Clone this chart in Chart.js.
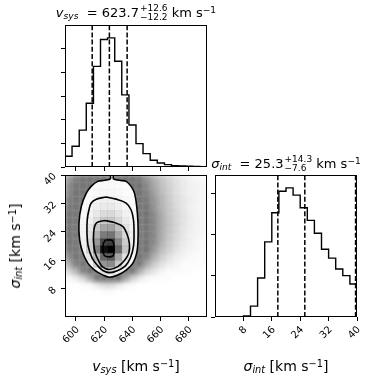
<!DOCTYPE html>
<html>
<head>
<meta charset="utf-8">
<title>v_sys / sigma_int corner plot</title>
<script src="https://cdn.jsdelivr.net/npm/chart.js@4.4.1/dist/chart.umd.min.js"></script>
<style>
  html, body { margin: 0; padding: 0; background: #fff; }
  #fig { position: relative; width: 373px; height: 385px; overflow: hidden;
         font-family: 'DejaVu Sans', sans-serif; color: #000; }
  #fig canvas { position: absolute; }
  .lbl { position: absolute; white-space: nowrap; transform: translateX(-50%); }
  .ttl { font-size: 13px; line-height: 15px; }
  .axl { font-size: 14px; line-height: 16px; }
  .sb { font-style: italic; font-size: 0.7em; position: relative; top: 0.25em; }
  .sp { font-size: 0.7em; position: relative; top: -0.42em; }
  .ss { position: relative; display: inline-block; font-size: 9px; line-height: 9px; margin-left: 1px; }
  .ss .u { position: relative; top: -5.7px; }
  .ss .d { position: absolute; left: 0; top: 3.3px; }
  #ylab { transform: translate(-50%, -50%) rotate(-90deg); }
</style>
</head>
<body>
<div id="fig">
  <canvas id="histV" width="215" height="180" style="left:0;top:0"></canvas>
  <canvas id="joint" width="215" height="225" style="left:0;top:160px"></canvas>
  <canvas id="histS" width="165" height="225" style="left:208px;top:160px"></canvas>

  <div class="lbl ttl" style="left:136px;top:4.7px"><i>v</i><span class="sb">sys</span>&nbsp; = 623.7<span class="ss"><span class="u">+12.6</span><span class="d">−12.2</span></span> km s<span class="sp">−1</span></div>
  <div class="lbl ttl" style="left:286px;top:155.5px"><i>σ</i><span class="sb">int</span>&nbsp; = 25.3<span class="ss"><span class="u">+14.3</span><span class="d">−7.6</span></span> km s<span class="sp">−1</span></div>
  <div class="lbl axl" style="left:136px;top:358px"><i>v</i><span class="sb">sys</span> [km s<span class="sp">−1</span>]</div>
  <div class="lbl axl" style="left:286px;top:358px"><i>σ</i><span class="sb">int</span> [km s<span class="sp">−1</span>]</div>
  <div class="lbl axl" id="ylab" style="left:16px;top:246px"><i>σ</i><span class="sb">int</span> [km s<span class="sp">−1</span>]</div>
</div>

<script>
// ---- values ----
const vsysEdges = [592.2, 597.2, 602.3, 607.3, 612.4, 617.4, 622.4, 627.5, 632.5, 637.6, 642.6,
                   647.6, 652.7, 657.7, 662.8, 667.8, 672.8, 677.9, 682.9, 688.0, 693.0];
const vsysCounts = [455, 880, 1560, 2695, 4255, 5390, 5460, 4470, 3050, 1775,
                    990, 565, 285, 170, 100, 55, 40, 30, 20, 12];
const sigEdges = [0, 2, 4, 6, 8, 10, 12, 14, 16, 18, 20, 22, 24, 26, 28, 30, 32, 34, 36, 38, 40];
const sigCounts = [0, 0, 0, 0, 24, 265, 947, 1824, 2530, 3053,
                   3133, 2957, 2651, 2345, 2031, 1646, 1429, 1164, 1005, 802];

// 16th / 50th / 84th percentiles quoted in the titles
const vsysQuant = [611.5, 623.7, 636.3];
const sigQuant = [17.7, 25.3, 39.6];

const vsysTicks = [600, 620, 640, 660, 680];
const sigTicks = [8, 16, 24, 32, 40];
const vsysCountTicks = [0, 1000, 2000, 3000, 4000, 5000];
const sigCountTicks = [0, 1000, 2000, 3000];

// 2d histogram (arbitrary units), rows from sigma 38-40 at the top down to 0-2,
// columns follow vsysEdges
const density = [
  [38, 57, 70, 81, 102, 117, 118, 106, 85, 75, 61, 41, 28, 19, 13, 9, 6, 4, 3, 2],
  [46, 69, 87, 102, 132, 153, 154, 137, 108, 93, 75, 49, 33, 21, 15, 10, 7, 5, 4, 3],
  [50, 77, 99, 120, 156, 184, 186, 163, 127, 107, 84, 54, 36, 23, 16, 10, 7, 5, 4, 3],
  [58, 91, 120, 147, 197, 235, 238, 207, 157, 129, 99, 63, 41, 26, 17, 11, 8, 6, 4, 3],
  [62, 100, 134, 169, 233, 281, 285, 244, 182, 146, 109, 68, 43, 27, 18, 12, 8, 5, 4, 3],
  [71, 116, 161, 210, 295, 361, 369, 311, 226, 170, 128, 78, 48, 30, 19, 13, 9, 6, 4, 3],
  [76, 127, 184, 251, 362, 451, 460, 383, 272, 202, 141, 84, 51, 31, 20, 13, 9, 6, 4, 3],
  [78, 134, 205, 304, 454, 577, 590, 482, 332, 228, 149, 87, 51, 31, 20, 13, 8, 6, 4, 3],
  [79, 138, 223, 348, 537, 701, 718, 575, 383, 248, 155, 88, 51, 30, 19, 12, 8, 5, 4, 3],
  [75, 136, 231, 389, 620, 829, 851, 668, 430, 260, 152, 84, 48, 28, 17, 11, 7, 5, 3, 2],
  [64, 119, 222, 410, 684, 946, 975, 744, 459, 251, 134, 71, 40, 23, 15, 9, 6, 4, 3, 2],
  [46, 87, 162, 298, 525, 754, 781, 576, 338, 184, 100, 52, 29, 16, 10, 6, 4, 3, 2, 1],
  [28, 54, 111, 225, 420, 631, 657, 466, 258, 128, 63, 32, 17, 10, 6, 4, 2, 1, 1, 1],
  [12, 25, 52, 111, 219, 345, 361, 246, 129, 61, 29, 14, 8, 4, 2, 2, 1, 1, 0, 0],
  [3, 6, 13, 29, 61, 103, 108, 70, 34, 15, 7, 3, 2, 1, 1, 0, 0, 0, 0, 0],
  [0, 0, 1, 2, 6, 10, 11, 6, 3, 1, 0, 0, 0, 0, 0, 0, 0, 0, 0, 0],
  [0, 0, 0, 0, 0, 1, 1, 0, 0, 0, 0, 0, 0, 0, 0, 0, 0, 0, 0, 0],
  [0, 0, 0, 0, 0, 0, 0, 0, 0, 0, 0, 0, 0, 0, 0, 0, 0, 0, 0, 0],
  [0, 0, 0, 0, 0, 0, 0, 0, 0, 0, 0, 0, 0, 0, 0, 0, 0, 0, 0, 0],
  [0, 0, 0, 0, 0, 0, 0, 0, 0, 0, 0, 0, 0, 0, 0, 0, 0, 0, 0, 0]
];

// contour lines, [vsys, sigma]
const contour1 = [[624.4, 40], [624.4, 38.9], [620.3, 38.5], [615.5, 38.2], [610.8, 36.8], [607.3, 34.9],
  [603.8, 31.2], [602.1, 26.4], [602.6, 21.7], [604.9, 18.0], [608.5, 15.1], [613.2, 13.2],
  [619.1, 11.8], [623.8, 11.2], [629.7, 11.8], [635.6, 13.2], [640.3, 15.1], [643.1, 18.0],
  [644.0, 21.7], [644.0, 26.4], [643.1, 31.2], [641.5, 34.9], [639.1, 36.8], [635.6, 38.2],
  [630.9, 38.5], [626.6, 38.9], [626.6, 40]];
const contour2 = [[621.4, 33.8], [614.4, 33.2], [610.8, 32.1], [609.2, 30.2], [608.0, 27.4], [607.8, 23.6],
  [608.7, 19.9], [611.5, 16.6], [615.5, 14.4], [619.1, 13.1], [623.8, 12.5], [629.7, 13.1],
  [635.1, 14.4], [638.6, 16.6], [640.8, 19.9], [641.2, 23.6], [640.8, 27.4], [639.1, 30.2],
  [635.6, 32.1], [628.5, 33.2], [621.4, 33.8]];
const contour3 = [[620.3, 27.2], [614.8, 26.6], [613.2, 25.5], [612.5, 23.6], [612.5, 20.8], [613.7, 18.0],
  [616.0, 15.9], [618.6, 14.2], [623.8, 13.4], [629.7, 14.2], [634.4, 15.9], [637.5, 18.0],
  [637.9, 20.8], [636.0, 23.6], [633.2, 25.5], [627.3, 26.6], [620.3, 27.2]];
const contour4 = [[621.0, 21.7], [625.5, 21.6], [626.8, 20.6], [627.0, 18.5], [626.2, 17.2], [621.0, 17.1],
  [619.5, 18.0], [619.4, 20.6], [621.0, 21.7]];

// ---- drawing ----
Chart.defaults.font.family = "'DejaVu Sans', sans-serif";
Chart.defaults.color = '#000';

// black box round each panel
const frame = {
  id: 'frame',
  afterDatasetsDraw(chart) {
    const {ctx, chartArea: a} = chart;
    ctx.save();
    ctx.strokeStyle = '#000';
    ctx.lineWidth = 1;
    ctx.strokeRect(a.left + 0.5, a.top + 0.5, a.right - a.left - 1, a.bottom - a.top - 1);
    ctx.restore();
  }
};

// soften the scatter cloud so it reads like many faint points
const blurCloud = {
  id: 'blurCloud',
  beforeDatasetDraw(chart, args) {
    if (chart.data.datasets[args.index].cloud) {
      chart.ctx.save();
      chart.ctx.filter = 'blur(2px)';
    }
  },
  afterDatasetDraw(chart, args) {
    if (chart.data.datasets[args.index].cloud) chart.ctx.restore();
  }
};

function linScale(min, max, ticks, fit, tickOpts) {
  return {
    type: 'linear', min: min, max: max,
    afterBuildTicks: s => { s.ticks = ticks.map(v => ({value: v})); },
    afterFit: s => { Object.assign(s, fit); },
    border: {display: false},
    grid: {drawOnChartArea: false, drawTicks: true, tickLength: 4, tickWidth: 1, tickColor: '#000', color: '#000'},
    ticks: Object.assign({display: false, autoSkip: false, minRotation: 45, maxRotation: 45,
                          font: {size: 10}, color: '#000', padding: 3}, tickOpts)
  };
}

function baseOptions(pad, scales) {
  return {
    responsive: false, animation: false, events: [],
    layout: {padding: pad, autoPadding: false},
    plugins: {legend: {display: false}, tooltip: {enabled: false}},
    scales: scales
  };
}

function stepPoints(edges, counts) {
  const pts = [{x: edges[0], y: 0}];
  counts.forEach((c, i) => pts.push({x: edges[i], y: c}, {x: edges[i + 1], y: c}));
  pts.push({x: edges[edges.length - 1], y: 0});
  return pts;
}

function histChart(id, edges, counts, quant, xTicks, yTicks, pad, xh, yw, xLabels) {
  const top = 1.1 * Math.max(...counts);
  const datasets = [{
    data: stepPoints(edges, counts), showLine: true, borderColor: '#000', borderWidth: 1.4, pointRadius: 0
  }].concat(quant.map(q => ({
    data: [{x: q, y: 0}, {x: q, y: top}], showLine: true, borderColor: '#000',
    borderWidth: 1.5, borderDash: [5, 2.2], pointRadius: 0
  })));
  return new Chart(document.getElementById(id), {
    type: 'scatter',
    data: {datasets: datasets},
    options: baseOptions(pad, {
      x: linScale(edges[0], edges[edges.length - 1], xTicks, {height: xh}, xLabels),
      y: linScale(0, top, yTicks, {width: yw}, {display: false})
    }),
    plugins: [frame]
  });
}

histChart('histV', vsysEdges, vsysCounts, vsysQuant, vsysTicks, vsysCountTicks,
          {top: 25, right: 8, bottom: 0, left: 0}, 13, 65, {display: false});
histChart('histS', sigEdges, sigCounts, sigQuant, sigTicks, sigCountTicks,
          {top: 15, right: 16, bottom: 0, left: 0}, 68, 7, {display: true, labelOffset: 2});

// joint panel
const cells = [];
density.forEach((row, r) => row.forEach((h, c) => {
  if (h > 0) {
    cells.push({x: (vsysEdges[c] + vsysEdges[c + 1]) / 2,
                y: (sigEdges[19 - r] + sigEdges[20 - r]) / 2, h: h});
  }
}));
const hMax = Math.max(...density.map(r => Math.max(...r)));

function cellRadius(c) {
  const {x, y} = c.chart.scales;
  const w = Math.abs(x.getPixelForValue(vsysEdges[1]) - x.getPixelForValue(vsysEdges[0]));
  const h = Math.abs(y.getPixelForValue(sigEdges[1]) - y.getPixelForValue(sigEdges[0]));
  return (Math.max(w, h) + 0.6) / Math.SQRT2;
}

function cloudColor(c) {
  const a = Math.min(0.62, 1 - Math.pow(0.9, 0.13 * c.raw.h));
  return 'rgba(0,0,0,' + a.toFixed(3) + ')';
}

function densityColor(c) {
  const t = c.raw.h / hMax;
  const g = Math.round(255 * (1 - t));
  return 'rgba(' + g + ',' + g + ',' + g + ',' + t.toFixed(3) + ')';
}

const toXY = pts => pts.map(p => ({x: p[0], y: p[1]}));

const jointSets = [
  {data: cells, cloud: true, order: 4, clip: 0, pointStyle: 'rect', pointRadius: cellRadius,
   pointBorderWidth: 0, pointBackgroundColor: cloudColor},
  {data: toXY(contour1), order: 3, showLine: true, fill: 'shape', backgroundColor: '#fff',
   borderWidth: 0, borderColor: 'rgba(0,0,0,0)', pointRadius: 0, tension: 0.35},
  {data: cells, order: 2, clip: 0, pointStyle: 'rect', pointRadius: cellRadius,
   pointBorderWidth: 0, pointBackgroundColor: densityColor}
].concat([contour1, contour2, contour3, contour4].map(cn => ({
  data: toXY(cn), order: 1, showLine: true, borderColor: '#000', borderWidth: 1.6,
  pointRadius: 0, tension: 0.35
})));

new Chart(document.getElementById('joint'), {
  type: 'scatter',
  data: {datasets: jointSets},
  options: baseOptions({top: 15, right: 8, bottom: 0, left: 0}, {
    x: linScale(vsysEdges[0], vsysEdges[vsysEdges.length - 1], vsysTicks, {height: 68},
                {display: true, labelOffset: 2}),
    y: linScale(sigEdges[0], sigEdges[sigEdges.length - 1], sigTicks, {width: 65},
                {display: true, padding: 6})
  }),
  plugins: [blurCloud, frame]
});
</script>
</body>
</html>
